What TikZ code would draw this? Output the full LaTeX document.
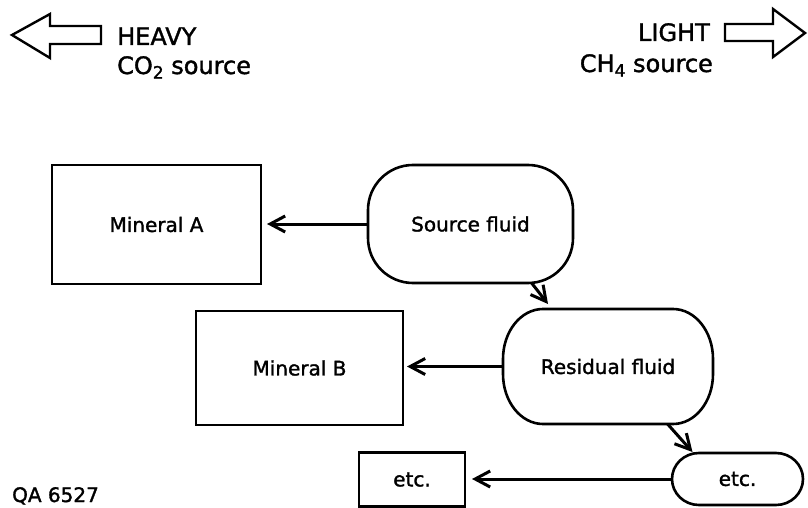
\documentclass[tikz,border=0pt]{standalone}
\usepackage{fontspec}
\setmainfont{DejaVu Sans}[FakeBold=1.5]
\usetikzlibrary{arrows.meta,calc}
\newcommand\mysubtxt[1]{\raisebox{-0.35ex}{\fontsize{17}{17}\selectfont #1}}
\newcommand\stadiumoutline[3]{%
  \draw[boxline] ($(#1.north west)+(#2,0)$) -- ($(#1.north east)+(-#2,0)$)
    arc[start angle=-90,end angle=0,x radius=#2,y radius=#3]
    -- ($(#1.south east)+(0,-#3)$)
    arc[start angle=0,end angle=90,x radius=#2,y radius=#3]
    -- ($(#1.south west)+(#2,0)$)
    arc[start angle=90,end angle=180,x radius=#2,y radius=#3]
    -- ($(#1.north west)+(0,#3)$)
    arc[start angle=180,end angle=270,x radius=#2,y radius=#3] -- cycle;}
\begin{document}
\begin{tikzpicture}[x=1pt,y=-1pt,
  boxline/.style={line width=2.6pt,line join=round},
  txt/.style={font=\fontsize{20}{24}\selectfont},
  bigtxt/.style={font=\fontsize{24}{28}\selectfont,inner sep=0pt},
  mineralbox/.style={txt,draw,line width=2.6pt,inner sep=0pt,outer sep=0pt},
  fluidbox/.style={txt,inner sep=0pt,outer sep=0pt},
  conn/.style={line width=3pt,-{Straight Barb[length=15pt,width=16pt]}},
  bigarrow/.style={line width=2.4pt,line join=miter}]
\useasboundingbox (0,0) rectangle (808,508);

% top labels
\node[bigtxt,anchor=base west] (heavy) at (117,45) {HEAVY};
\node[bigtxt,anchor=base west] (co2) at (117,74) {CO\mysubtxt{2} source};
\node[bigtxt,anchor=base east] (light) at (710,41) {LIGHT};
\node[bigtxt,anchor=base east] (ch4) at (713,72) {CH\mysubtxt{4} source};
\node[txt,inner sep=0pt,anchor=base west] (qa) at (12,502) {QA 6527};

% big arrows
\draw[bigarrow] (101,26) -- (50,26) -- (50,14) -- (12,35) -- (50,58) -- (50,44) -- (101,44) -- cycle;
\draw[bigarrow] (725,24) -- (773,24) -- (773,9) -- (805,33) -- (773,57) -- (773,41) -- (725,41) -- cycle;

% boxes
\node[mineralbox,minimum width=209pt,minimum height=119pt] (ma) at (156.5,224.5) {Mineral A};
\node[fluidbox,minimum width=205pt,minimum height=118pt] (sf) at (470.5,224) {Source fluid};
\stadiumoutline{sf}{45}{45}
\node[mineralbox,minimum width=207pt,minimum height=114pt] (mb) at (299.5,368) {Mineral B};
\node[fluidbox,minimum width=210pt,minimum height=115pt] (rf) at (608,366.5) {Residual fluid};
\stadiumoutline{rf}{40}{50}
\node[mineralbox,minimum width=106pt,minimum height=54pt] (er) at (412,479.5) {etc.};
\node[fluidbox,minimum width=131pt,minimum height=52pt] (eo) at (737.5,479) {etc.};
\stadiumoutline{eo}{27}{26}

% connectors
\draw[conn,shorten >=6pt] (sf.west) -- (sf.west -| ma.east);
\draw[conn] (sf.-44.5) -- ($(rf.north)+(-60,-5)$);
\draw[conn,shorten >=4pt] (rf.west) -- (rf.west -| mb.east);
\draw[conn] (rf.-44) -- ($(eo.north)+(-45,-1)$);
\draw[conn,shorten >=7pt] (eo.west) -- (eo.west -| er.east);
\end{tikzpicture}
\end{document}
